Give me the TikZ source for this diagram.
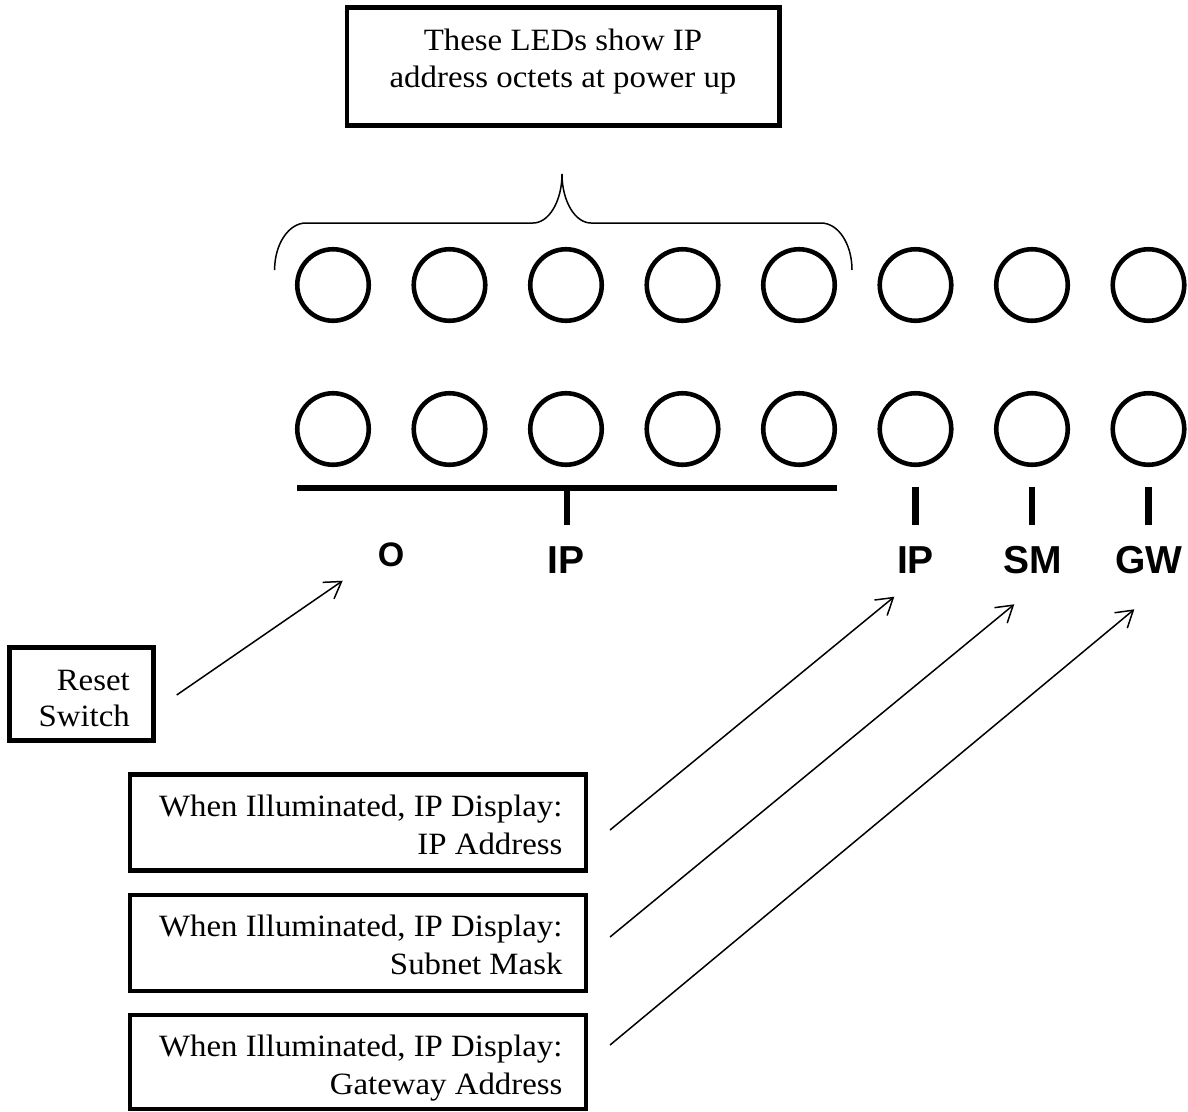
\documentclass[tikz,border=0pt]{standalone}
\usepackage{fontspec}
\setmainfont{Liberation Serif}[FakeStretch=1.06]
\newfontfamily\labelfont{Liberation Sans}
\usetikzlibrary{arrows.meta}
\tikzset{
  led/.style={circle, draw, line width=4.6pt, minimum size=71.5pt, inner sep=0pt},
  boxed/.style={draw, line width=4.8pt, inner sep=0pt},
  txt/.style={font=\fontsize{31}{36.7}\selectfont, inner sep=0pt},
  lbl/.style={font=\labelfont\bfseries\fontsize{39}{44}\selectfont, inner sep=0pt},
  tickline/.style={line width=6.5pt},
  arr/.style={line width=1.5pt, -{Straight Barb[length=16pt,width=20pt]}},
  bracestyle/.style={line width=1.5pt},
}
\begin{document}
\begin{tikzpicture}[x=1pt,y=-1pt]
\useasboundingbox (0,0) rectangle (1188,1111);
% top callout
\node[boxed, minimum width=432.5pt, minimum height=118pt] (topbox) at (563.25,66.5) {};
\node[txt, anchor=base] (topa) at (563,50) {These LEDs show IP};
\node[txt, anchor=base] (topb) at (563,87) {address octets at power up};
% brace
\draw[bracestyle] (274.6,270) .. controls (274.6,244) and (288.7,223) .. (306,223)
  -- (533,223) .. controls (549,223) and (562,201) .. (562,174)
  .. controls (562,201) and (575,223) .. (591,223)
  -- (821,223) .. controls (838.3,223) and (852,244) .. (852,270);
% LEDs
\foreach \i in {1,...,8} {
  \pgfmathsetmacro{\xx}{333+116.5*(\i-1)}
  \node[led] (a\i) at (\xx,285) {};
  \node[led] (b\i) at (\xx,429) {};
}
% bar and ticks
\draw[tickline] (297,488) -- (837,488);
\draw[tickline] (567,488) -- (567,525);
\draw[tickline] (915.5,487) -- (915.5,525);
\draw[tickline] (1032,487) -- (1032,525);
\draw[tickline] (1148.5,487) -- (1148.5,525);
% labels
\node[lbl, font=\labelfont\bfseries\fontsize{34}{40}\selectfont, anchor=base] (lo) at (391,566.7) {O};
\node[lbl, anchor=base] (lip) at (566,573) {IP};
\node[lbl, anchor=base] (lip2) at (915.5,573) {IP};
\node[lbl, anchor=base] (lsm) at (1033,573) {SM};
\node[lbl, anchor=base] (lgw) at (1149,573) {GW};
% reset box
\node[boxed, minimum width=144pt, minimum height=92.8pt] (resetbox) at (81.7,693.9) {};
\node[txt, anchor=base east] (reseta) at (130,690) {Reset};
\node[txt, anchor=base east] (resetb) at (130,726.7) {Switch};
% info boxes
\node[boxed, minimum width=456pt, minimum height=96pt] (box1) at (358,822.5) {};
\node[boxed, minimum width=456pt, minimum height=96pt] (box2) at (358,943) {};
\node[boxed, minimum width=456pt, minimum height=94pt] (box3) at (358,1062) {};
\node[txt, anchor=base east] (b1a) at (562.7,816.7) {When Illuminated, IP Display:};
\node[txt, anchor=base east] (b1b) at (562.7,854) {IP Address};
\node[txt, anchor=base east] (b2a) at (562.7,936.7) {When Illuminated, IP Display:};
\node[txt, anchor=base east] (b2b) at (562.7,974) {Subnet Mask};
\node[txt, anchor=base east] (b3a) at (562.7,1056.7) {When Illuminated, IP Display:};
\node[txt, anchor=base east] (b3b) at (562.7,1094) {Gateway Address};
% arrows
\coordinate (r0) at (176.7,695);
\coordinate (r1) at (342.7,580.7);
\coordinate (p0) at (610,830);
\coordinate (p1) at (894.3,596.7);
\coordinate (s0) at (610,937);
\coordinate (s1) at (1014.3,604.3);
\coordinate (g0) at (610,1045);
\coordinate (g1) at (1134.3,609.3);
\draw[arr] (r0) -- (r1);
\draw[arr] (p0) -- (p1);
\draw[arr] (s0) -- (s1);
\draw[arr] (g0) -- (g1);
\end{tikzpicture}
\end{document}
